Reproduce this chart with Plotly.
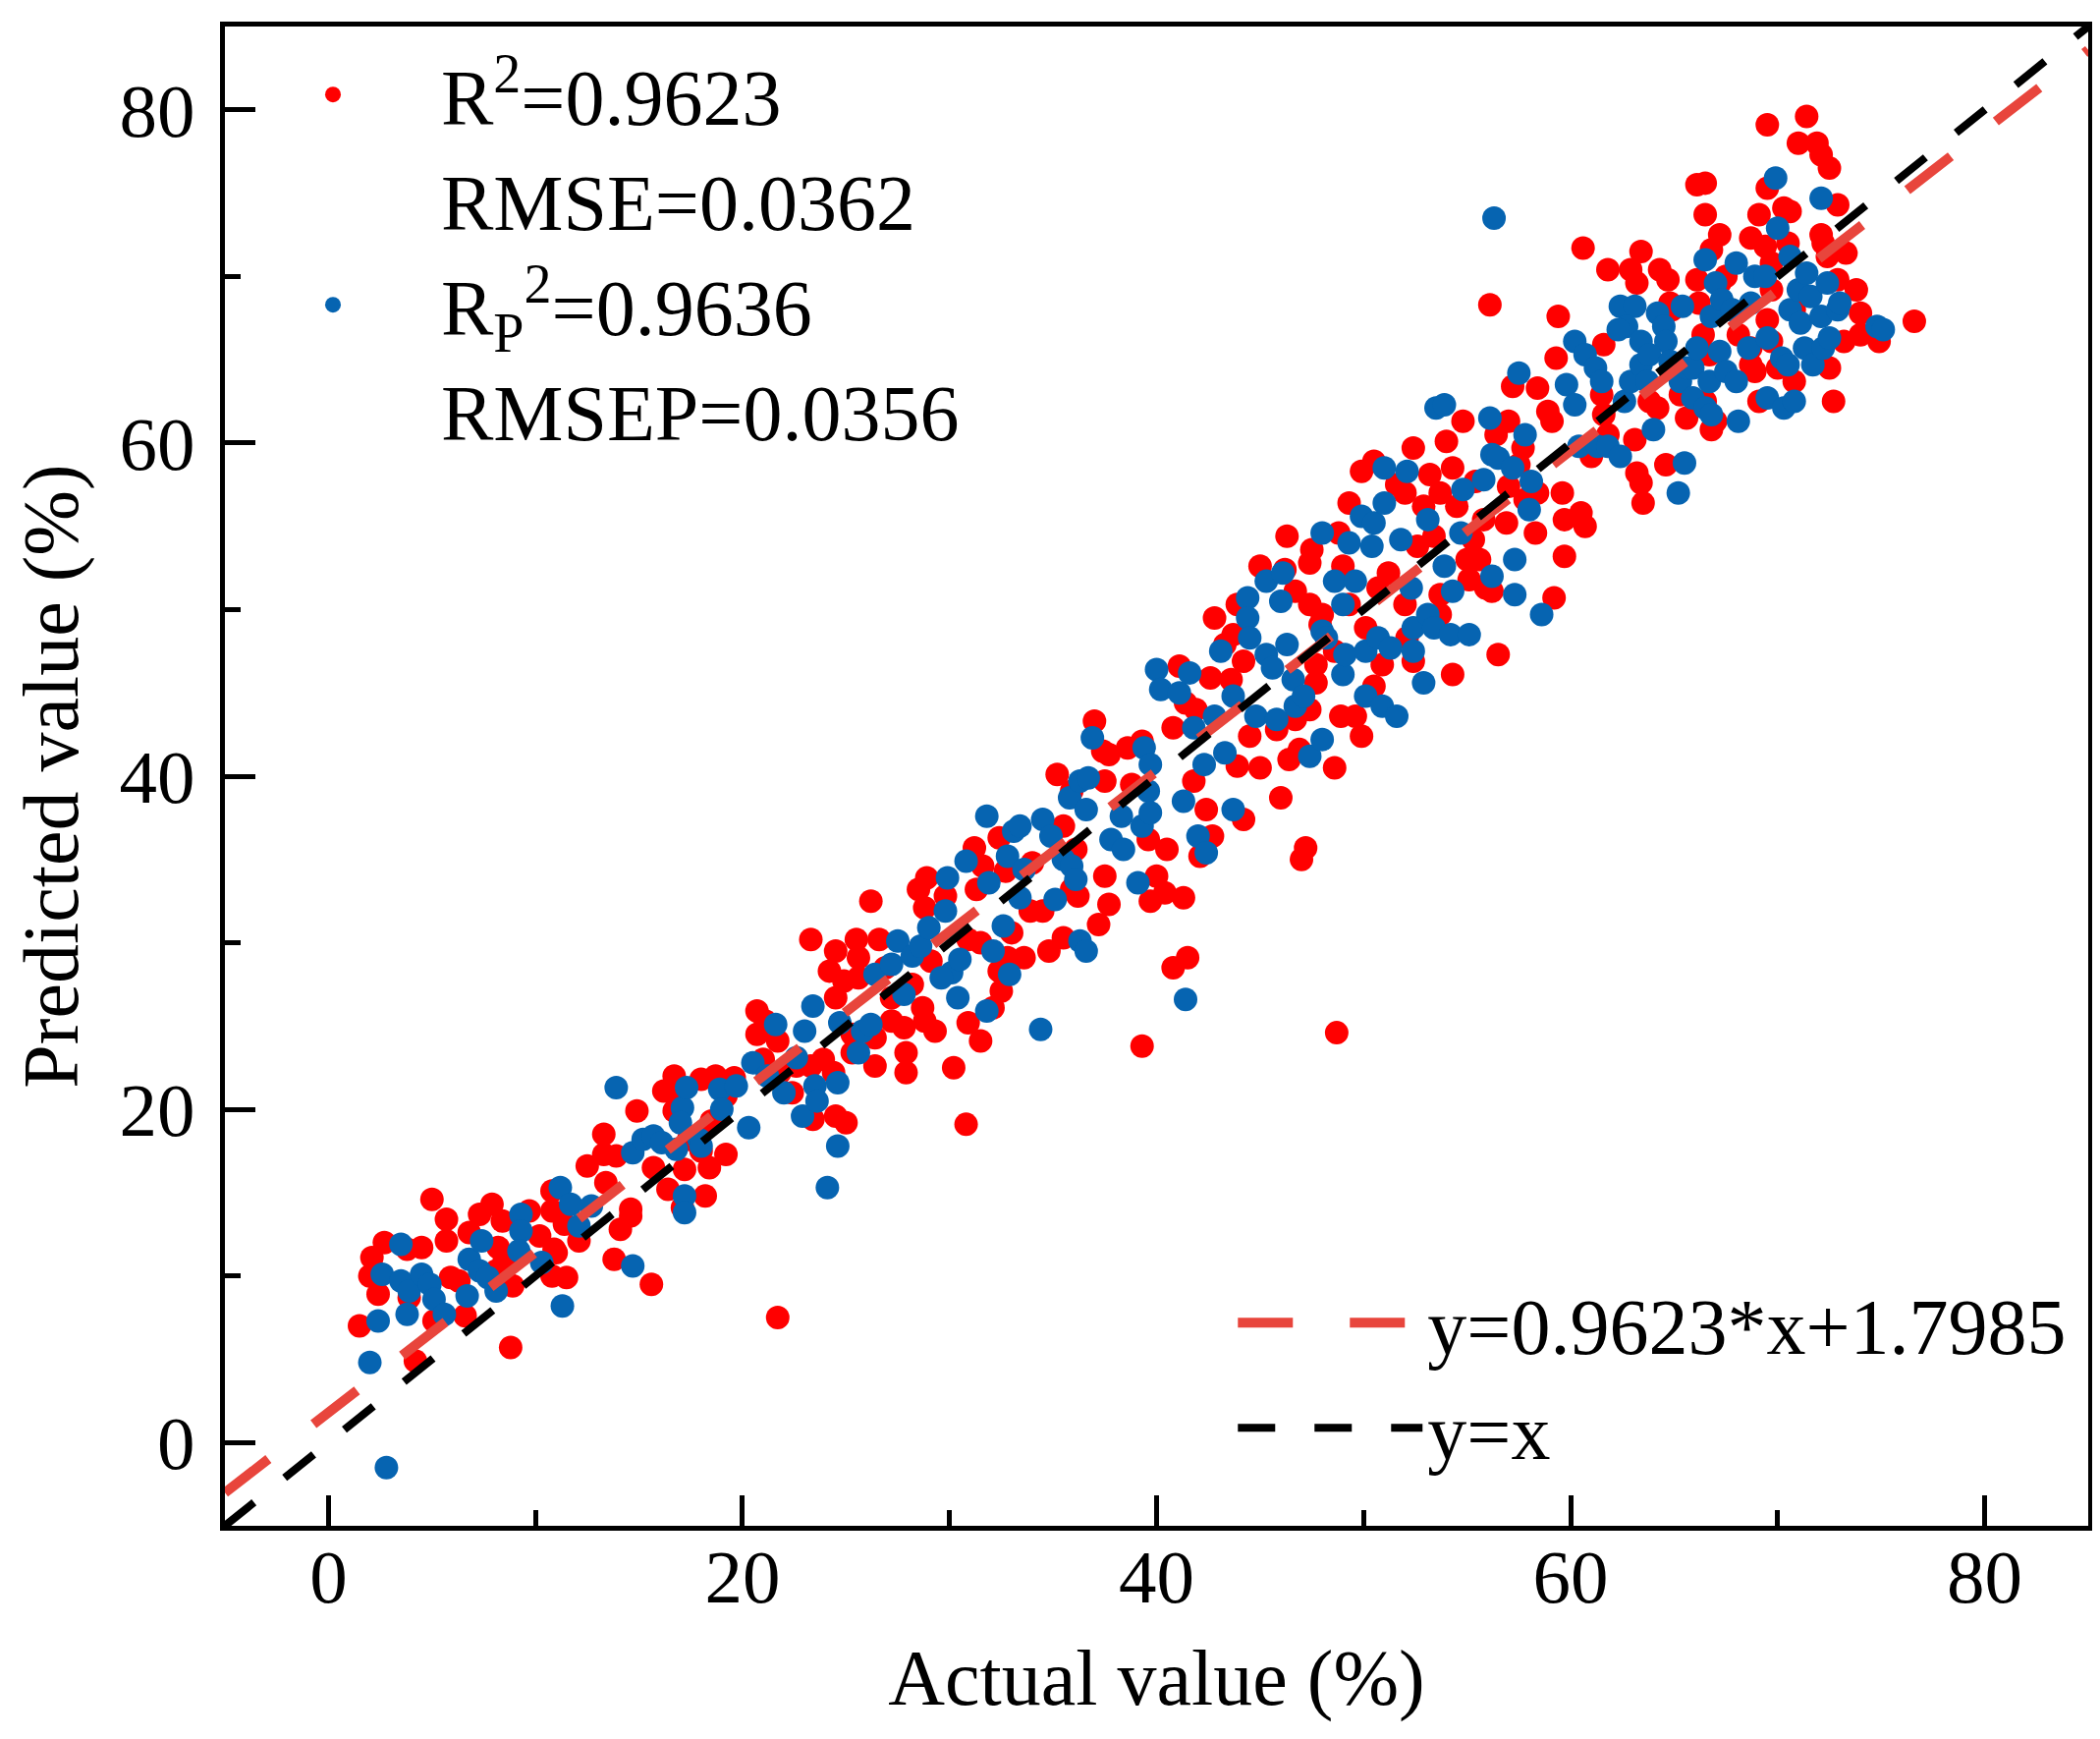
import plotly.graph_objects as go

# ---------------- data ----------------
train_points = [
    (1.5,7.0),(2.1,11.1),(2.0,10.0),(2.4,8.9),(2.7,12.0),(3.8,11.6),(4.5,11.7),(3.9,8.7),(4.2,4.9),(5.0,14.6),
    (5.7,13.4),(5.7,12.1),(5.9,9.9),(5.1,7.3),(6.6,7.6),(6.3,9.7),(6.8,12.6),(7.3,13.7),(7.9,14.3),(8.4,13.3),
    (8.2,11.7),(8.5,11.0),(8.1,10.3),(8.9,9.4),(8.8,5.7),(9.7,13.9),(10.2,12.4),(10.8,13.9),(10.8,15.1),(11.0,11.4),
    (10.8,10.0),(11.5,9.9),(11.4,13.1),(12.1,12.1),(12.5,16.6),(13.3,18.5),(13.3,17.3),(13.9,17.2),(13.4,15.6),(13.8,11.0),
    (14.1,12.8),(14.6,14.0),(14.9,19.9),(15.6,9.5),(15.7,16.5),(16.2,21.1),(16.4,15.2),(16.7,19.9),(17.1,14.1),(17.2,16.4),
    (10.9,11.6),(14.6,13.6),(16.7,22.0),(16.9,20.6),(17.4,18.2),(18.0,21.8),(18.0,17.5),(18.4,16.5),(18.2,14.8),(18.7,22.0),
    (19.2,17.3),(18.5,19.3),(19.2,20.8),(19.6,21.9),(20.7,25.9),(21.1,25.3),(20.7,24.5),(21.0,23.0),(21.7,24.1),(21.8,22.2),
    (22.6,22.6),(22.4,21.0),(23.3,30.2),(23.3,22.6),(23.4,19.4),(23.9,23.0),(24.4,22.2),(24.5,19.6),(25.0,19.2),(24.2,28.3),
    (24.5,29.5),(24.9,27.7),(25.3,24.5),(25.5,30.2),(25.6,29.1),(25.6,27.9),(25.3,23.4),(24.5,26.7),(26.2,32.5),(26.4,22.6),
    (26.6,30.2),(26.9,28.5),(27.2,26.7),(27.2,25.3),(26.4,24.3),(27.8,24.9),(27.9,23.4),(27.9,22.2),(28.2,27.5),(28.5,33.2),
    (28.9,33.9),(28.8,32.1),(28.7,26.1),(28.8,25.3),(29.3,24.7),(29.1,28.9),(30.2,22.5),(30.8,19.1),(30.9,25.2),(31.5,24.1),
    (30.9,30.2),(31.5,30.0),(31.3,33.2),(31.2,35.7),(31.6,34.6),(32.4,36.3),(32.4,28.3),(32.5,27.1),(32.7,34.3),(33.0,30.6),
    (32.8,29.1),(32.1,26.1),(21.7,7.5),
    (29.8,32.8),(33.6,29.1),(33.9,31.9),(34.0,34.8),(34.5,31.9),(34.8,29.5),(35.2,40.1),(35.5,30.3),(35.9,39.1),(35.9,33.2),
    (36.2,32.8),(35.5,37.0),(36.1,35.6),(37.0,43.3),(37.4,41.5),(37.5,39.7),(37.7,41.3),(37.2,31.1),(37.5,34.0),(37.7,32.3),
    (38.6,41.7),(38.8,39.5),(39.3,42.1),(39.6,36.2),(39.7,32.5),(40.0,34.0),(40.4,33.0),(40.5,35.6),(40.8,28.5),(41.5,29.1),
    (41.3,32.7),(40.8,42.9),(41.1,46.6),(41.4,44.4),(41.8,39.7),(41.9,44.0),(42.1,35.2),(42.7,36.4),(42.4,38.0),(44.2,37.4),
    (46.0,38.7),(47.0,35.0),(47.2,35.7),(48.7,24.6),(39.3,23.8),
    (46.3,54.4),(45.0,52.6),(46.2,52.4),(47.4,52.8),(47.5,53.6),(46.7,51.1),(47.4,50.3),(48.0,49.7),(42.8,49.5),(43.7,48.5),
    (43.9,50.3),(43.3,47.9),(42.6,45.9),(43.6,45.8),(44.2,46.9),(44.5,42.4),(43.9,40.6),(45.0,40.5),(45.8,42.8),(46.7,43.4),
    (46.9,41.6),(46.4,41.0),(47.4,44.0),(47.7,46.7),(47.7,45.6),(47.9,49.1),(48.6,47.5),(48.9,43.6),(48.6,40.5),(48.8,54.6),
    (49.0,52.6),(49.3,56.4),(49.9,58.3),(49.3,50.3),(49.6,43.6),(49.9,42.4),(50.1,48.9),(50.5,58.9),(50.5,45.4),(50.9,46.7),
    (50.7,51.3),(51.2,52.2),(51.6,57.5),(52.0,57.0),(52.0,50.3),(52.1,48.3),(52.4,59.7),(52.6,53.8),(52.4,46.9),(52.9,56.2),
    (53.2,58.1),(53.7,57.0),(53.4,54.4),(53.7,50.9),(53.7,49.7),(54.0,60.1),(54.3,46.1),(54.3,58.5),(54.5,56.2),(54.8,61.3),
    (55.0,53.0),(55.1,51.8),(55.3,54.2),(55.4,57.7),(55.6,53.0),(55.9,51.3),(56.2,51.1),(56.5,47.3),(55.8,55.4),(56.4,60.5),
    (56.9,55.2),(57.0,57.4),(57.0,61.3),(57.2,63.4),(57.5,58.7),(57.7,59.7),(57.8,56.6),(58.3,54.6),(58.4,63.3),(58.4,57.0),
    (59.2,50.7),(59.7,53.2),(56.1,68.3),
    (60.6,71.7),(59.4,67.6),(59.3,65.1),(58.9,61.9),(59.1,61.3),(59.6,57.0),(59.7,55.4),(60.5,55.8),(60.7,55.0),(61.0,59.2),
    (61.6,61.7),(61.8,60.5),(61.6,65.9),(61.8,70.4),(61.5,62.9),(63.4,71.5),(62.9,70.4),(63.2,69.6),(63.1,60.2),(63.2,58.2),
    (63.4,57.6),(63.5,56.4),(63.8,62.5),(64.2,62.1),(64.3,70.4),(64.7,69.8),(64.8,68.4),(64.9,68.0),(64.6,58.7),(65.3,62.9),
    (65.6,61.5),(66.1,69.8),(66.1,75.5),(66.5,75.6),(66.5,73.7),(66.2,68.4),(66.4,66.5),(66.5,62.5),(66.7,65.3),(66.8,60.8),
    (67.2,72.5),(66.8,71.6),(67.2,69.6),(67.5,70.0),(68.1,66.5),(68.7,72.3),(68.7,65.7),(68.9,64.3),(69.1,62.5),(69.1,73.7),
    (69.5,79.1),(69.5,75.3),(69.4,71.8),(69.7,70.8),(69.7,69.2),(69.5,67.4),(69.7,66.1),(70.0,64.5),(70.3,74.1),(70.6,73.9),
    (70.5,72.0),(70.8,68.0),(70.8,63.7),(71.0,78.0),(71.4,79.6),(71.9,78.0),(72.1,77.3),(72.5,76.5),(72.9,74.3),(72.1,72.5),
    (72.2,72.0),(72.4,71.2),(72.9,69.8),(73.3,71.4),(73.8,69.2),(74.0,67.8),(73.2,66.1),(74.0,66.5),(74.9,66.1),(72.5,64.5),
    (72.7,62.5),(76.6,67.3),(67.0,61.3),(68.7,64.7),
]

test_points = [
    (2.4,7.3),(2.0,4.8),(2.8,-1.5),(2.6,10.1),(3.5,11.9),(3.5,9.7),(3.9,9.1),(3.8,7.7),(4.5,10.1),(4.9,9.5),
    (5.1,8.6),(5.6,7.7),(6.8,11.0),(6.7,8.8),(7.4,12.1),(7.3,10.3),(7.7,9.9),(8.1,9.1),(9.3,13.7),(9.3,12.7),
    (9.2,11.5),(10.3,10.8),(11.2,15.3),(11.3,8.2),(11.7,14.3),(12.1,13.0),(12.7,14.2),(13.9,21.3),(14.7,17.4),(15.2,18.2),
    (14.7,10.6),(15.7,18.4),(16.1,18.0),(17.1,20.1),(17.0,19.2),(17.2,14.8),(17.2,13.8),(16.8,17.6),
    (17.3,21.3),(17.9,18.2),(18.0,17.8),(18.9,21.2),(19.7,21.4),(19.0,20.0),(20.3,18.9),(20.5,22.8),(21.2,22.0),(21.6,25.1),
    (22.0,21.0),(22.6,23.1),(23.0,24.7),(22.9,19.6),(23.4,26.2),(23.5,21.4),(23.6,20.5),(24.6,21.6),(24.6,17.8),(24.1,15.3),
    (24.7,25.2),(25.6,23.4),(25.8,24.7),(26.2,25.1),(26.4,28.1),(27.2,28.7),(27.5,30.1),(27.8,26.9),(28.2,29.2),(28.6,29.8),
    (29.0,30.9),(29.9,33.9),(29.8,31.9),(30.1,28.2),(30.4,26.7),(29.6,27.9),(30.5,29.0),(30.8,34.9),(31.8,25.9),(32.1,29.5),
    (31.9,33.6),(32.6,31.0),(32.8,35.2),(32.9,28.1),(33.1,36.7),
    (31.8,37.6),(33.4,37.0),(33.6,34.4),(33.4,32.7),(34.4,24.8),(34.5,37.4),(34.9,36.4),(35.1,32.6),(35.5,35.0),(35.8,38.7),
    (35.9,34.6),(36.1,33.8),(36.3,30.1),(36.6,29.5),(36.3,39.7),(36.7,39.9),(36.6,38.0),(36.9,42.3),(37.8,36.2),(38.3,37.6),
    (38.4,35.6),(39.1,33.6),(39.3,37.0),(39.4,41.7),(39.6,39.1),(39.7,40.7),(39.7,37.8),(40.0,46.4),(40.2,45.2),(41.1,45.0),
    (41.4,26.6),(41.3,38.5),(41.6,46.2),(41.8,42.9),(42.0,36.4),(42.4,35.4),(42.3,40.7),(43.7,38.0),
    (42.8,43.6),(43.3,41.4),(43.1,47.5),(43.7,44.8),(44.4,50.7),(44.4,49.5),(44.5,48.3),(44.8,43.6),(45.3,51.7),(45.3,47.3),
    (45.6,46.5),(45.8,43.4),(46.0,50.5),(46.1,52.2),(46.3,47.9),(46.6,45.8),(46.7,44.2),(47.1,44.8),(47.4,41.2),(48.0,54.6),
    (48.0,42.2),(48.0,48.7),(48.2,48.3),(48.6,51.7),(49.0,46.1),(49.1,47.3),(49.3,54.0),(49.0,50.3),(49.6,51.7),(49.9,55.6),
    (50.1,47.5),(50.1,44.8),(50.4,53.8),(50.5,55.2),(50.7,48.3),(50.9,44.2),(51.0,56.4),(51.0,58.5),(51.3,47.7),(51.6,43.6),
    (51.8,54.2),(52.1,58.3),(52.3,51.3),(52.4,48.9),(52.4,47.5),(52.9,45.6),(53.1,55.4),(53.1,49.7),(53.4,48.9),(53.5,62.1),
    (53.9,62.3),(53.9,52.6),(54.2,48.5),(54.3,51.1),(54.7,54.6),(54.8,57.2),(55.1,48.5),(55.8,57.8),(56.1,61.5),(56.2,59.3),
    (56.2,52.0),(56.5,59.1),(57.2,58.5),(57.3,53.0),(57.3,50.9),(57.5,64.2),(57.8,60.5),(58.0,56.0),(58.1,57.7),(58.6,49.7),
    (56.3,73.5),
    (60.2,66.1),(60.7,65.3),(59.8,63.5),(60.2,62.3),(60.4,59.8),(61.3,59.8),(61.8,59.8),(61.2,64.5),(61.5,63.7),(62.6,62.5),
    (62.4,59.2),(62.9,63.7),(62.4,68.2),(63.1,68.2),(62.7,67.0),(62.3,66.8),(63.4,66.1),(64.0,60.8),(64.2,67.8),(64.5,67.0),
    (64.6,66.1),(63.4,64.7),(63.8,65.3),(63.7,63.7),(65.3,63.7),(65.4,68.2),(65.6,64.5),(64.8,64.9),(65.2,57.0),(65.5,58.8),
    (65.9,64.5),(65.9,62.7),(66.1,65.7),(66.5,62.1),(66.7,63.7),(66.8,67.6),(66.8,61.7),(67.0,69.6),(67.2,65.5),(66.5,71.0),
    (67.3,68.6),(67.5,64.3),(67.8,68.0),(68.0,70.8),(68.0,63.7),(68.1,61.3),(68.6,65.7),(68.7,68.4),(68.9,70.0),(69.4,70.0),
    (69.5,66.3),(69.5,62.7),(69.9,75.9),(70.0,72.9),(70.2,65.1),(70.3,62.1),(70.6,71.2),(70.6,68.0),(70.8,62.5),(71.0,69.2),
    (71.1,67.2),(71.3,65.7),(71.4,70.2),(71.6,68.8),(71.7,64.7),(72.1,67.6),(72.1,74.7),(72.4,69.6),(72.2,65.7),(72.5,66.3),
    (72.9,68.0),(73.0,68.4),(74.8,67.0),(75.1,66.8),(70.5,64.7),
]

train_actual = [p[0] for p in train_points]
train_pred = [p[1] for p in train_points]
test_actual = [p[0] for p in test_points]
test_pred = [p[1] for p in test_points]

FIT_SLOPE = 0.9623
FIT_INTERCEPT = 1.7985
LINE_X = [-5, 85]
AXIS_RANGE = [-5, 85]
MAJOR_TICKS = [0, 20, 40, 60, 80]
MAJOR_LABELS = ["0", "20", "40", "60", "80"]
MINOR_TICKS = [10, 30, 50, 70]

LABEL_R2 = "R<sup>2</sup>=0.9623"
LABEL_RMSE = "RMSE=0.0362"
LABEL_RP2 = "R<sub>P</sub><sup>2</sup>=0.9636"
LABEL_RMSEP = "RMSEP=0.0356"
LABEL_FIT = "y=0.9623*x+1.7985"
LABEL_ID = "y=x"

# ---------------- styling ----------------
FONT = "Liberation Serif"
RED = "#FF0000"
BLUE = "#0664B1"
FIT_RED = "#E8453C"
MSIZE = 24
LEG_MSIZE = 22

fig = go.Figure()

fig.add_trace(go.Scatter(x=train_actual, y=train_pred, mode="markers",
                         marker=dict(color=RED, size=MSIZE, line=dict(width=0)),
                         name=LABEL_R2, legend="legend"))
fig.add_trace(go.Scatter(x=[None], y=[None], mode="markers",
                         marker=dict(color="rgba(0,0,0,0)", size=MSIZE),
                         name=LABEL_RMSE, legend="legend"))
fig.add_trace(go.Scatter(x=test_actual, y=test_pred, mode="markers",
                         marker=dict(color=BLUE, size=MSIZE, line=dict(width=0)),
                         name=LABEL_RP2, legend="legend"))
fig.add_trace(go.Scatter(x=[None], y=[None], mode="markers",
                         marker=dict(color="rgba(0,0,0,0)", size=MSIZE),
                         name=LABEL_RMSEP, legend="legend"))

fit_y = [FIT_SLOPE * x + FIT_INTERCEPT for x in LINE_X]
fig.add_trace(go.Scatter(x=LINE_X, y=fit_y, mode="lines",
                         line=dict(color=FIT_RED, width=10, dash="56px,58px"),
                         name=LABEL_FIT, legend="legend2"))
fig.add_trace(go.Scatter(x=LINE_X, y=LINE_X, mode="lines",
                         line=dict(color="black", width=8, dash="38px,40px"),
                         name=LABEL_ID, legend="legend2"))

axis_common = dict(
    range=AXIS_RANGE, showgrid=False, zeroline=False,
    showline=True, linecolor="black", linewidth=5, mirror=True,
    ticks="inside", ticklen=31, tickwidth=5, tickcolor="black",
    tickmode="array", tickvals=MAJOR_TICKS, ticktext=MAJOR_LABELS,
    tickfont=dict(family=FONT, size=77, color="black"),
    minor=dict(ticks="inside", ticklen=16, tickwidth=5, tickcolor="black",
               tickmode="array", tickvals=MINOR_TICKS),
)

fig.update_xaxes(**axis_common, ticklabelstandoff=-19,
                 title=dict(text="Actual value (%)", font=dict(family=FONT, size=80, color="black"), standoff=33))
fig.update_yaxes(**axis_common, ticklabelstandoff=10,
                 title=dict(text="Predicted value (%)", font=dict(family=FONT, size=80, color="black"), standoff=22))

fig.update_layout(
    width=2138, height=1770,
    margin=dict(l=221, r=20, t=19, b=225),
    plot_bgcolor="white", paper_bgcolor="white",
    font=dict(family=FONT, size=80, color="black"),
    legend=dict(x=0.0, y=0.993, xanchor="left", yanchor="top",
                bgcolor="rgba(0,0,0,0)", itemwidth=210, tracegroupgap=0,
                font=dict(family=FONT, size=80, color="black")),
    legend2=dict(x=0.541, y=0.027, xanchor="left", yanchor="bottom",
                 bgcolor="rgba(0,0,0,0)", itemwidth=188, tracegroupgap=0,
                 font=dict(family=FONT, size=80, color="black")),
)

fig.write_html("out.html")
